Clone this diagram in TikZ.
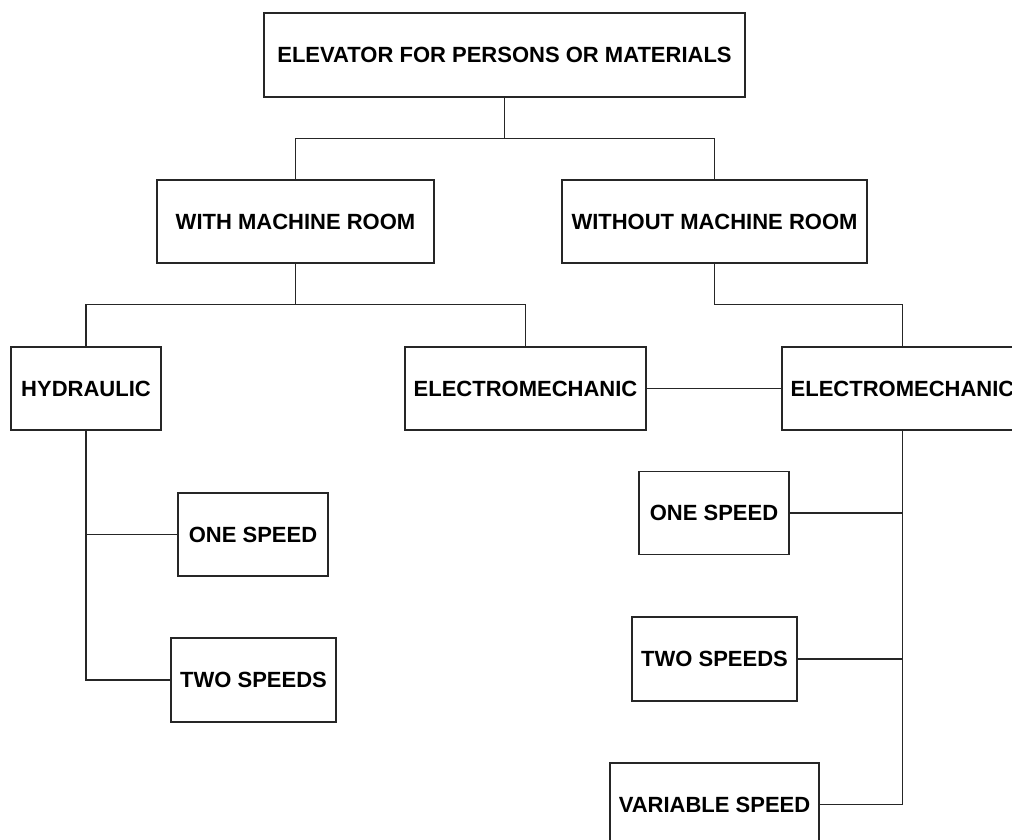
\documentclass[tikz,border=0pt]{standalone}
\usepackage{fontspec}
\setmainfont{Liberation Sans}
\begin{document}
\begin{tikzpicture}[x=1pt,y=-1pt,
  box/.style={draw=black!85, line width=1.1pt, fill=white, inner sep=0pt,
    minimum height=83pt, font=\bfseries\fontsize{22}{26}\selectfont, text=black},
  link/.style={draw=black!85, line width=1.1pt}]
\useasboundingbox (0,0) rectangle (1012,840);
\clip (0,0) rectangle (1012,840);
\node[box, minimum width=481pt, minimum height=84pt] (top) at (504.5,55) {ELEVATOR FOR PERSONS OR MATERIALS};
\node[box, minimum width=277pt] (wmr) at (295.5,221.5) {WITH MACHINE ROOM};
\node[box, minimum width=305pt] (womr) at (714.5,221.5) {WITHOUT MACHINE ROOM};
\node[box, minimum width=150pt] (hyd) at (86,388.5) {HYDRAULIC};
\node[box, minimum width=241pt] (eml) at (525.5,388.5) {ELECTROMECHANIC};
\node[box, minimum width=241pt] (emr) at (902.5,388.5) {ELECTROMECHANIC};
\node[box, minimum width=150pt] (os1) at (253,534.5) {ONE SPEED};
\node[box, minimum width=165pt, minimum height=84pt] (ts1) at (253.5,680) {TWO SPEEDS};
\node[box, minimum width=150pt] (os2) at (714,513) {ONE SPEED};
\node[box, minimum width=165pt, minimum height=84pt] (ts2) at (714.5,659) {TWO SPEEDS};
\node[box, minimum width=209pt] (vs) at (714.5,804.5) {VARIABLE SPEED};
\draw[link] (top.south) -- ++(0,41) -| (wmr.north);
\draw[link] (top.south) -- ++(0,41) -| (womr.north);
\draw[link] (wmr.south) -- ++(0,41) -| (hyd.north);
\draw[link] (wmr.south) -- ++(0,41) -| (eml.north);
\draw[link] (womr.south) -- ++(0,41) -| (emr.north);
\draw[link] (eml.east) -- (emr.west);
\draw[link] (hyd.south) |- (ts1.west);
\draw[link] (hyd.south |- os1.west) -- (os1.west);
\draw[link] (emr.south) |- (vs.east);
\draw[link] (emr.south |- os2.east) -- (os2.east);
\draw[link] (emr.south |- ts2.east) -- (ts2.east);
\end{tikzpicture}
\end{document}
